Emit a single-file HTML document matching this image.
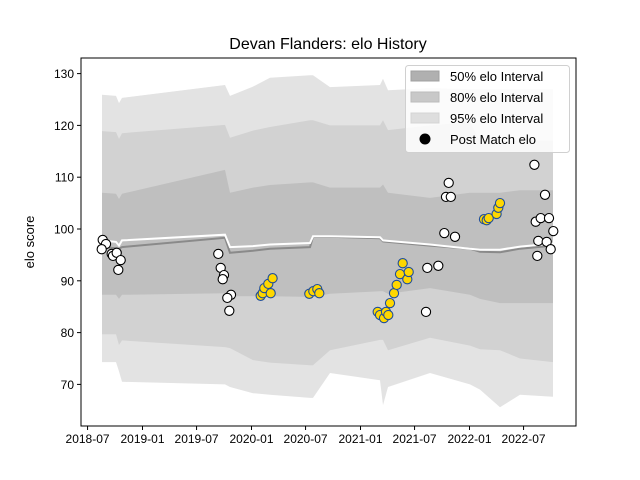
<!DOCTYPE html>
<html><head><meta charset="utf-8"><style>
body{margin:0;background:#fff;}
svg{display:block;font-family:"Liberation Sans","DejaVu Sans",sans-serif;}
</style></head><body>
<svg id="chart" width="640" height="480"></svg>
<script>
const bandDates=[2018.628,2018.757,2018.784,2018.812,2019.757,2019.803,2020.014,2020.170,2020.537,2020.564,2020.720,2021.179,2021.206,2021.252,2021.638,2022.005,2022.096,2022.280,2022.463,2022.766];
const hi95=[125.9,125.7,124.3,125.3,127.8,125.7,127.5,129.2,129.7,129.7,127.4,127.8,129,126.8,127.2,127,127,127,127,127];
const hi80=[118.9,118.7,117.4,118.5,120.1,117.6,119,119.7,121,121,120,120,121,119.1,120,120.6,117,117,117,117];
const hi50=[107,106.8,105.8,106.8,111.4,107,108,108.5,109,109,108,108,108.6,107,106,107,107,107,107.5,107.5];
const lo50=[87.3,87.3,86.5,87.3,87.6,87,87,87,86.9,86.9,87.5,88,88,87.5,88.6,87.3,86.5,85.7,85.7,85.7];
const lo80=[79.7,79.7,77.6,78.5,77.2,77,74.7,74.2,73.7,73.7,76.6,78.6,78.6,76.6,79,77.5,76.8,76.6,75,74.3];
const lo95=[74.3,74.3,72.5,70.5,70,69.5,68.3,68,67.4,67.4,72.2,70.8,66,69.5,72.2,70,69,65.6,68,67.6];
const meanLine=[96.5,96.3,96.2,96.5,98.3,95.4,95.8,96.2,96.5,98.5,98.5,98.2,97.6,97.5,96.8,96.2,95.6,95.5,96.2,96.8];
const whiteLine=[97.8,97.5,96.8,97.8,98.9,96.5,96.7,97.0,97.3,98.6,98.6,98.4,97.8,97.7,97.0,96.2,96.0,96.0,96.6,97.2];
const matchDates=[2018.635,2018.665,2018.626,2018.717,2018.729,2018.763,2018.800,2018.778,2019.695,2019.717,2019.748,2019.736,2019.812,2019.778,2019.796,
2020.084,2020.103,2020.117,2020.154,2020.194,2020.176,2020.530,2020.567,2020.604,2020.622,
2021.158,2021.179,2021.216,2021.234,2021.255,2021.271,2021.307,2021.332,2021.362,2021.387,2021.429,2021.442,
2021.601,2021.613,2021.714,2021.769,2021.867,2021.784,2021.828,2021.809,
2022.133,2022.158,2022.176,2022.249,2022.264,2022.280,
2022.595,2022.693,2022.607,2022.653,2022.729,2022.769,2022.631,2022.708,2022.745,2022.622];
const matchElo=[97.9,97.1,96.1,95.2,94.8,95.4,94.0,92.1,95.2,92.5,91.1,90.3,87.3,86.7,84.2,
87.1,87.6,88.6,89.4,90.5,87.6,87.5,88.0,88.4,87.6,
84.0,83.4,82.8,84.0,83.4,85.7,87.6,89.2,91.3,93.4,90.3,91.7,
84.0,92.5,92.9,99.2,98.5,106.2,106.2,108.9,
101.9,101.7,102.1,102.9,104.1,105.0,
112.4,106.6,101.4,102.1,102.1,99.6,97.7,97.5,96.1,94.8];
const matchHighlight=[0,0,0,0,0,0,0,0,0,0,0,0,0,0,0,
1,1,1,1,1,1,1,1,1,1,
1,1,1,1,1,1,1,1,1,1,1,1,
0,0,0,0,0,0,0,0,
1,1,1,1,1,1,
0,0,0,0,0,0,0,0,0,0];
const xTickVals=[2018.496,2019.0,2019.496,2020.0,2020.496,2021.0,2021.496,2022.0,2022.496];
const xTickLabels=["2018-07","2019-01","2019-07","2020-01","2020-07","2021-01","2021-07","2022-01","2022-07"];
const yTickVals=[70,80,90,100,110,120,130];

const NS="http://www.w3.org/2000/svg";
const svg=document.getElementById('chart');
const L=81,R=576,T=58,B=426;
const xs=t=>88+(t-2018.5)*109;
const ys=v=>229-(v-100)*5.18;
function mk(tag,attrs,parent){const e=document.createElementNS(NS,tag);for(const k in attrs)e.setAttribute(k,attrs[k]);(parent||svg).appendChild(e);return e;}
function band(hi,lo,fill,name){
  let d='M'+bandDates.map((t,i)=>xs(t).toFixed(1)+','+ys(hi[i]).toFixed(1)).join('L');
  for(let i=bandDates.length-1;i>=0;i--)d+='L'+xs(bandDates[i]).toFixed(1)+','+ys(lo[i]).toFixed(1);
  const p=mk('path',{d:d+'Z',fill:fill});
  
  
}
band(hi95,lo95,'#e3e3e3','band-95');
band(hi80,lo80,'#d2d2d2','band-80');
band(hi50,lo50,'#bfbfbf','band-50');
function line(vals,stroke,w,name){
  const p=mk('polyline',{points:bandDates.map((t,i)=>xs(t).toFixed(1)+','+ys(vals[i]).toFixed(1)).join(' '),fill:'none',stroke:stroke,'stroke-width':w});
  
  
}
line(meanLine,'#8a8a8a',2,'mean-elo-line');
line(whiteLine,'#ffffff',2,'white-elo-line');
matchDates.forEach((t,i)=>{
  const hl=matchHighlight[i]===1;
  const c=mk('circle',{cx:xs(t).toFixed(1),cy:ys(matchElo[i]).toFixed(1),r:4.6,fill:hl?'#ffd700':'#ffffff',stroke:hl?'#1f4e9a':'#000000','stroke-width':1.1});
  
  
});
// axes frame
const fr=mk('rect',{x:L,y:T,width:R-L,height:B-T,fill:'none',stroke:'#000','stroke-width':1});


xTickVals.forEach((t,i)=>{
  const x=xs(t);
  mk('line',{x1:x,x2:x,y1:B,y2:B+4,stroke:'#000'});
  const tx=mk('text',{x:x,y:B+17,'text-anchor':'middle','font-size':12,fill:'#000'});
  tx.textContent=xTickLabels[i];
  
  
});
yTickVals.forEach(v=>{
  const y=ys(v);
  mk('line',{x1:L-4,x2:L,y1:y,y2:y,stroke:'#000'});
  const tx=mk('text',{x:L-7,y:y+4.5,'text-anchor':'end','font-size':12,fill:'#000'});
  tx.textContent=String(v);
  
  
});
</script>
<svg width="640" height="480" style="position:absolute;left:0;top:0;font-family:'Liberation Sans','DejaVu Sans',sans-serif;">
<text x="328" y="49" text-anchor="middle" font-size="16">Devan Flanders: elo History</text>
<text x="0" y="0" transform="translate(34,242) rotate(-90)" text-anchor="middle" font-size="13">elo score</text>
<g>
<rect x="405.5" y="65.5" width="164" height="87" rx="3" fill="#fff" fill-opacity="0.85" stroke="#d0d0d0"/>
<rect x="411" y="71" width="28" height="10" fill="#b0b0b0" stroke="#a0a0a0"/>
<text x="450" y="81" font-size="13">50% elo Interval</text>
<rect x="411" y="92" width="28" height="10" fill="#c8c8c8" stroke="#bbbbbb"/>
<text x="450" y="102" font-size="13">80% elo Interval</text>
<rect x="411" y="113" width="28" height="10" fill="#dedede" stroke="#d4d4d4"/>
<text x="450" y="123" font-size="13">95% elo Interval</text>
<circle cx="425" cy="139" r="5.5" fill="#000"/>
<text x="450" y="144" font-size="13">Post Match elo</text>
</g>
</svg>
</body></html>
